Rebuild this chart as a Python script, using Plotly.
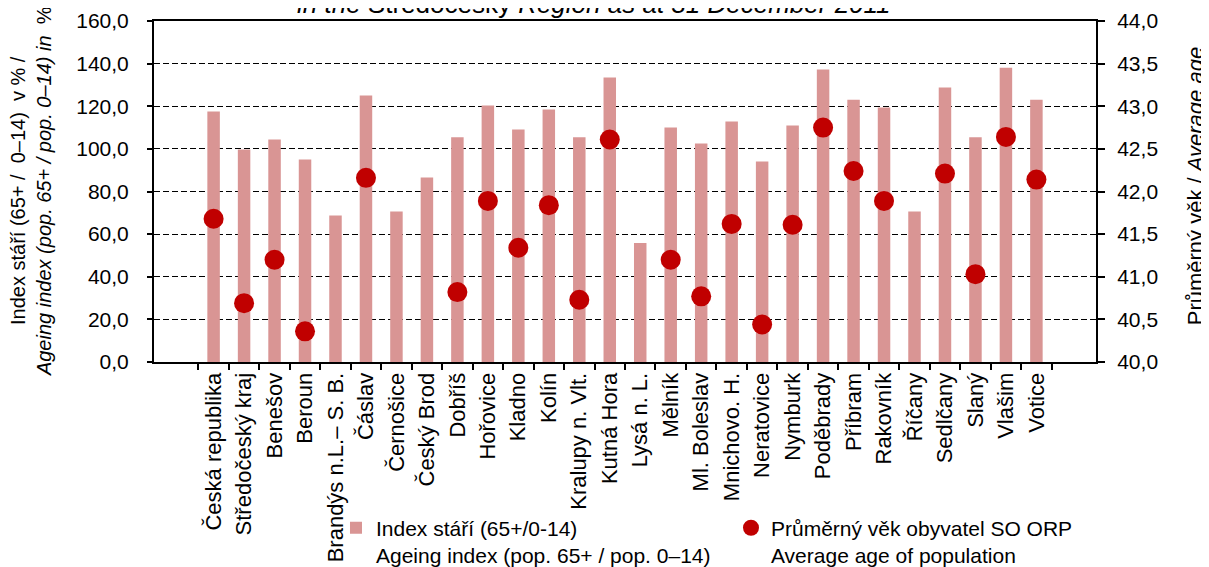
import plotly.graph_objects as go

categories = ["Česká republika", "Středočeský kraj", "Benešov", "Beroun", "Brandýs n.L.– S. B.",
              "Čáslav", "Černošice", "Český Brod", "Dobříš", "Hořovice", "Kladno", "Kolín",
              "Kralupy n. Vlt.", "Kutná Hora", "Lysá n. L.", "Mělník", "Ml. Boleslav", "Mnichovo. H.",
              "Neratovice", "Nymburk", "Poděbrady", "Příbram", "Rakovník", "Říčany", "Sedlčany",
              "Slaný", "Vlašim", "Votice"]

ageing_index = [117.5, 99.7, 104.4, 95.0, 68.7, 125.0, 70.6, 86.6, 105.5, 120.3, 109.1, 118.5,
                105.5, 133.5, 55.8, 110.0, 102.5, 112.8, 94.1, 111.0, 137.2, 123.1, 119.4, 70.6,
                128.8, 105.5, 138.1, 123.1]

average_age = [41.68, 40.69, 41.20, 40.36, None, 42.16, None, None, 40.82, 41.89, 41.34, 41.84,
               40.73, 42.61, None, 41.20, 40.77, 41.62, 40.44, 41.61, 42.75, 42.24, 41.89, None,
               42.21, 41.03, 42.64, 42.14]

FONT = "Liberation Sans, Arial, sans-serif"
PAGE_OFFSET = 8  # default body margin of the HTML page

fig = go.Figure()
fig.add_trace(go.Bar(
    x=categories, y=ageing_index, yaxis="y",
    marker=dict(color="#D99594", line=dict(width=0)),
    name="Index stáří (65+/0-14)<br>Ageing index (pop. 65+ / pop. 0–14)",
))
fig.add_trace(go.Scatter(
    x=categories, y=average_age, yaxis="y2", mode="markers",
    marker=dict(color="#C00000", size=20),
    name="Průměrný věk obyvatel SO ORP<br>Average age of population",
))

fig.update_layout(
    width=1209, height=567,
    margin=dict(l=154 - PAGE_OFFSET, r=113 + PAGE_OFFSET, t=21 - PAGE_OFFSET,
                b=205 + PAGE_OFFSET, autoexpand=False),
    paper_bgcolor="white", plot_bgcolor="white",
    font=dict(family=FONT, size=21, color="black"),
    separators=", ",
    bargap=0.59,
    showlegend=True,
    legend=dict(orientation="h", x=0.1932, y=-0.427, xanchor="left", yanchor="top",
                font=dict(size=21, family=FONT), valign="top",
                entrywidth=350, entrywidthmode="pixels",
                itemwidth=30, bgcolor="rgba(0,0,0,0)", tracegroupgap=0),
    xaxis=dict(
        type="category", showline=True, linecolor="black", linewidth=2,
        mirror=True, ticks="outside", ticklen=6, tickcolor="black", tickwidth=1.5,
        tickson="boundaries", tickangle=-90, showgrid=False, automargin=False,
        tickfont=dict(size=22, family=FONT),
    ),
    yaxis=dict(
        range=[0, 160], dtick=20, tickformat=".1f",
        showline=True, linecolor="black", linewidth=2,
        ticks="outside", ticklen=5, tickcolor="black", tickwidth=1.5,
        ticklabelstandoff=14, automargin=False,
        showgrid=True, gridcolor="black", gridwidth=1.3, griddash="6px,3px",
        zeroline=False, tickfont=dict(size=21, family=FONT),
    ),
    yaxis2=dict(
        range=[40, 44], dtick=0.5, tickformat=".1f", overlaying="y", side="right",
        showline=True, linecolor="black", linewidth=2,
        ticks="outside", ticklen=7, tickcolor="black", tickwidth=1.5,
        ticklabelstandoff=8, automargin=False,
        showgrid=False, zeroline=False, tickfont=dict(size=21, family=FONT),
    ),
)

# Title (clipped at the top in the reference)
fig.add_annotation(
    text="<i>in the</i> Středočeský <i>Region as at 31 December 2011</i>",
    xref="paper", yref="paper", x=0.4676, y=1.0, xanchor="center", yanchor="bottom",
    showarrow=False, font=dict(size=26, family=FONT),
)

# Left axis title
fig.add_annotation(
    text="Index stáří (65+ /  0–14)  v % /<br><i>Ageing index (pop. 65+ / pop. 0–14) in</i>  %",
    xref="paper", yref="paper", x=-0.131, y=0.5, xanchor="center", yanchor="middle",
    textangle=-90, showarrow=False, font=dict(size=20, family=FONT),
)

# Right axis title
fig.add_annotation(
    text="Průměrný věk / <i>Average age</i>",
    xref="paper", yref="paper", x=1.105, y=0.515, xanchor="center", yanchor="middle",
    textangle=-90, showarrow=False, font=dict(size=22, family=FONT),
)

fig.write_html("out.html")
